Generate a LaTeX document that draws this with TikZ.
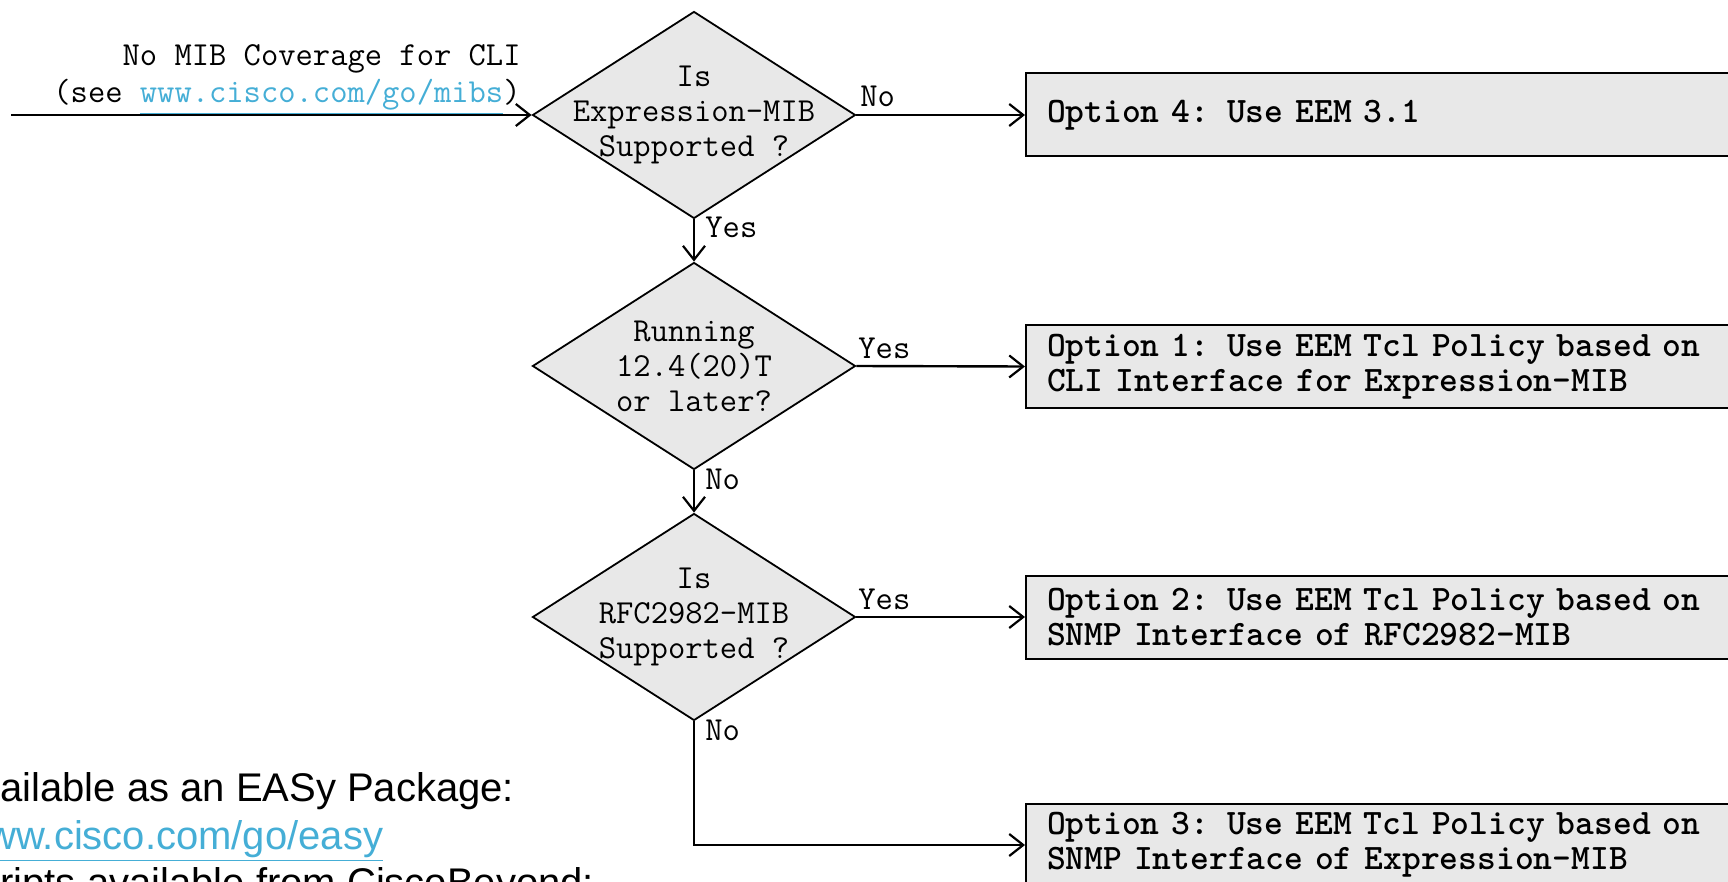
\documentclass[tikz,border=0pt]{standalone}
\usepackage{fontspec}
\setmainfont{Liberation Sans}
\usetikzlibrary{shapes.geometric,arrows.meta}
\definecolor{fillgray}{HTML}{E8E8E8}
\definecolor{linkblue}{HTML}{45AED6}
% fixed-pitch text with one-character word spaces
\newcommand{\fixspace}{\spaceskip=\fontcharwd\font`M\relax\xspaceskip=\spaceskip}
\newcommand{\monotext}{\ttfamily\fontsize{16.8pt}{17.5pt}\selectfont\fixspace}
\newcommand{\monobold}{\ttfamily\bfseries\fontsize{17.9pt}{17.5pt}\selectfont\fixspace}

\begin{document}
\begin{tikzpicture}[x=0.5pt,y=-0.5pt,
  decision/.style={diamond, draw, line width=0.9pt, fill=fillgray,
    minimum width=161.5pt, minimum height=103.5pt, inner sep=0pt},
  qtext/.style={font=\monotext, align=center, inner sep=0pt},
  option/.style={rectangle, draw, line width=1pt, fill=fillgray,
    minimum height=41.5pt, minimum width=451pt, text width=430pt,
    inner xsep=10.5pt, align=left, anchor=west, font=\monobold},
  lbl/.style={font=\monotext, inner sep=0pt, anchor=base west},
  note/.style={font=\fontsize{20pt}{24pt}\selectfont, inner sep=0pt, anchor=base west},
  flow/.style={line width=1.2pt, -{Straight Barb[length=7pt,width=11pt,line width=1.1pt]}},
]
\clip (0,0) rectangle (1728,882);

% decisions
\node[decision] (d1) at (694,115) {};
\node[qtext] (q1) at (d1) {Is\\Expression-MIB\\Supported ?};
\node[decision] (d2) at (694,366) {};
\node[qtext] (q2) at (d2) {Running\\12.4(20)T\\or later?};
\node[decision] (d3) at (694,617) {};
\node[qtext] (q3) at (d3) {Is\\RFC2982-MIB\\Supported ?};

% outcomes
\node[option] (o4) at (1025,115) {Option 4: Use EEM 3.1};
\node[option] (o1) at (1025,366.5) {Option 1: Use EEM Tcl Policy based on\\CLI Interface for Expression-MIB};
\node[option] (o2) at (1025,617) {Option 2: Use EEM Tcl Policy based on\\SNMP Interface of RFC2982-MIB};
\node[option] (o3) at (1025,845) {Option 3: Use EEM Tcl Policy based on\\SNMP Interface of Expression-MIB};

% entry
\coordinate (start) at (11,115);
\node[font=\monotext, inner sep=0pt, anchor=base east] (in1) at (521,66) {No MIB Coverage for CLI};
\node[font=\monotext, inner sep=0pt, anchor=base east] (in2) at (521,103)
  {(see \textcolor{linkblue}{\underline{www.cisco.com/go/mibs}})};

% connectors
\draw[flow] (start) -- (d1.west);
\draw[flow] (d1.east) -- (o4.west);
\draw[flow] (d1.south) -- (d2.north);
\draw[flow] (d2.east) -- (o1.west);
\draw[flow] (d2.south) -- (d3.north);
\draw[flow] (d3.east) -- (o2.west);
\draw[flow] (d3.south) |- (o3.west);

% branch labels
\node[lbl] (l1) at (860,107) {No};
\node[lbl] (l2) at (705,238) {Yes};
\node[lbl] (l3) at (858,358) {Yes};
\node[lbl] (l4) at (705,489) {No};
\node[lbl] (l5) at (858,609) {Yes};
\node[lbl] (l6) at (705,740) {No};

% package note
\node[note] (e1) at (0,801) {ailable as an EASy Package:};
\node[note, text=linkblue] (e2) at (-13,849) {\underline{ww.cisco.com/go/easy}};
\node[note] (e3) at (0,896) {ripts available from CiscoBeyond:};
\end{tikzpicture}
\end{document}
